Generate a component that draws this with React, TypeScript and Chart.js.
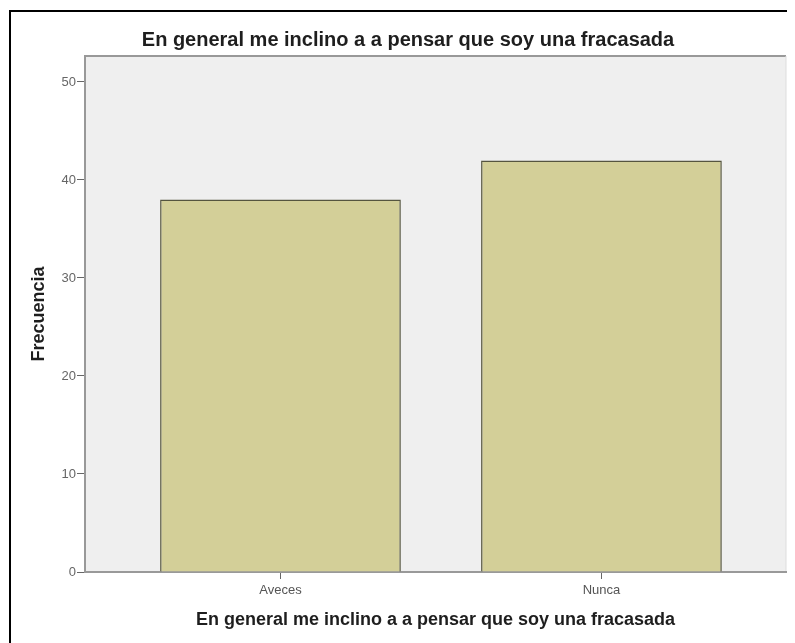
import React, { useEffect, useRef } from "react";
import { Chart, registerables } from "chart.js";

Chart.register(...registerables);

const chartTitle = "En general me inclino a a pensar que soy una fracasada";
const xAxisTitle = "En general me inclino a a pensar que soy una fracasada";
const yAxisTitle = "Frecuencia";
const categories = ["Aveces", "Nunca"];
const frequencies = [38, 42];
const yTicksStep = 10;
const yMax = 52.65;
const xMin = -0.609;
const xMax = 1.575;

const FONT = "'Liberation Sans', Arial, sans-serif";

const framePlugin = {
  id: "frameAndBg",
  beforeDraw(chart: any) {
    const { ctx, width, height, chartArea } = chart;
    ctx.save();
    ctx.fillStyle = "#ffffff";
    ctx.fillRect(0, 0, width, height);
    ctx.fillStyle = "#000000";
    ctx.fillRect(1, 2, 2, height - 2);
    ctx.fillRect(1, 2, width - 1, 2);
    ctx.fillStyle = "#efefef";
    ctx.fillRect(chartArea.left, chartArea.top, chartArea.right - chartArea.left, chartArea.bottom - chartArea.top);
    ctx.strokeStyle = "#999999";
    ctx.lineWidth = 2;
    ctx.beginPath();
    ctx.moveTo(chartArea.left, chartArea.top);
    ctx.lineTo(chartArea.right, chartArea.top);
    ctx.stroke();
    ctx.strokeStyle = "#dddddd";
    ctx.lineWidth = 1;
    ctx.beginPath();
    ctx.moveTo(chartArea.right, chartArea.top);
    ctx.lineTo(chartArea.right, chartArea.bottom);
    ctx.stroke();
    ctx.fillStyle = "#1e1e1e";
    ctx.font = `bold 20px ${FONT}`;
    ctx.textAlign = "center";
    ctx.textBaseline = "middle";
    ctx.fillText(chartTitle, 400, 32);
    ctx.restore();
  },
};

export default function App() {
  const ref = useRef<HTMLCanvasElement | null>(null);
  useEffect(() => {
    if (!ref.current) return;
    const chart = new Chart(ref.current, {
      type: "bar",
      data: {
        datasets: [
          {
            data: categories.map((c, i) => ({ x: i, y: frequencies[i] })),
            backgroundColor: "#d3cf98",
            borderColor: "#55553f",
            borderWidth: 1.5,
            barPercentage: 0.75,
            categoryPercentage: 1,
          },
        ],
      },
      options: {
        animation: false,
        responsive: false,
        maintainAspectRatio: false,
        layout: { padding: { left: 0, top: 48, right: 9, bottom: 0 } },
        plugins: {
          legend: { display: false },
          tooltip: { enabled: false },
          title: { display: false },
        },
        scales: {
          x: {
            type: "linear",
            min: xMin,
            max: xMax,
            offset: false,
            afterFit: (s: any) => {
              s.height = 71;
            },
            border: { display: true, color: "#999999", width: 2 },
            grid: { offset: false, drawOnChartArea: false, drawTicks: true, tickLength: 7, color: "#666666", lineWidth: 1 },
            ticks: {
              stepSize: 1,
              includeBounds: false,
              autoSkip: false,
              maxRotation: 0,
              padding: 4,
              color: "#555555",
              font: { family: FONT, size: 13 },
              callback: (v: any) => (Number.isInteger(v) && categories[v] !== undefined ? categories[v] : ""),
            },
            title: {
              display: true,
              text: xAxisTitle,
              color: "#1e1e1e",
              font: { family: FONT, size: 18, weight: "bold" },
              padding: { top: 0, bottom: 12 },
            },
          },
          y: {
            min: 0,
            max: yMax,
            afterFit: (s: any) => {
              s.width = 77;
            },
            border: { display: true, color: "#999999", width: 2 },
            grid: { drawOnChartArea: false, drawTicks: true, tickLength: 8, color: "#666666", lineWidth: 1 },
            ticks: {
              stepSize: yTicksStep,
              includeBounds: false,
              padding: 1,
              color: "#666666",
              font: { family: FONT, size: 13 },
            },
            title: {
              display: true,
              text: yAxisTitle,
              color: "#1e1e1e",
              font: { family: FONT, size: 18, weight: "bold" },
              padding: { top: 20, bottom: 0 },
            },
          },
        },
      },
      plugins: [framePlugin],
    } as any);
    return () => chart.destroy();
  }, []);
  return (
    <div style={{ width: 787, height: 635 }}>
      <canvas ref={ref} width={787} height={635} style={{ display: "block" }} />
    </div>
  );
}
